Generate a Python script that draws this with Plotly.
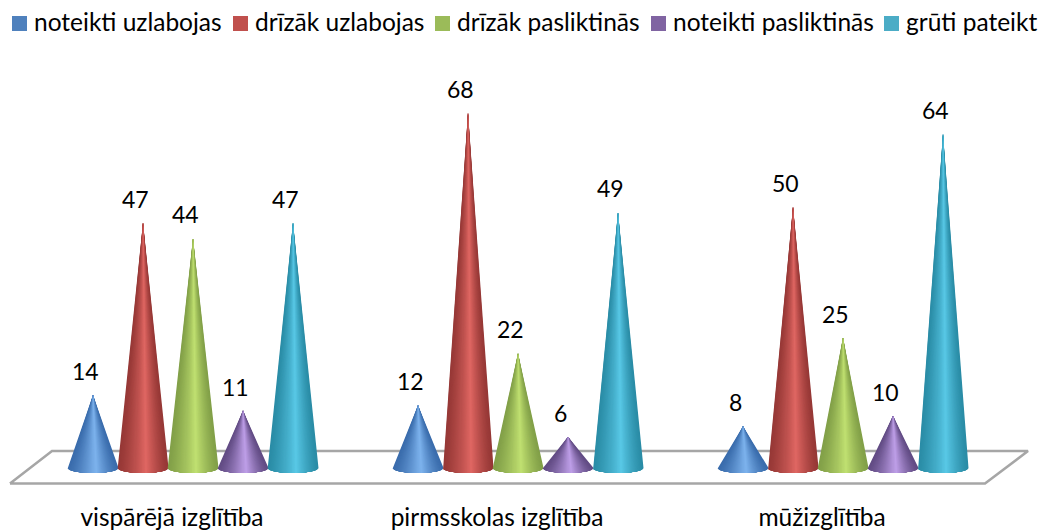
import math
import plotly.graph_objects as go

categories = ["vispārējā izglītība", "pirmsskolas izglītība", "mūžizglītība"]
series_names = ["noteikti uzlabojas", "drīzāk uzlabojas", "drīzāk pasliktinās", "noteikti pasliktinās", "grūti pateikt"]
noteikti_uzlabojas = [14, 12, 8]
drizak_uzlabojas = [47, 68, 50]
drizak_pasliktinas = [44, 22, 25]
noteikti_pasliktinas = [11, 6, 10]
gruti_pateikt = [47, 49, 64]
series_values = [noteikti_uzlabojas, drizak_uzlabojas, drizak_pasliktinas, noteikti_pasliktinas, gruti_pateikt]

legend_colors = ["#4F81BD", "#C0504D", "#9BBB59", "#8064A2", "#4BACC6"]
edge_colors = [(58, 108, 172), (150, 56, 54), (130, 160, 72), (98, 76, 132), (42, 140, 166)]
peak_colors = [(128, 182, 240), (226, 104, 100), (194, 226, 114), (194, 162, 236), (90, 202, 232)]

W, H = 1043, 531
BOTTOM = 40
PX_PER_CAT = 325.0
PX_PER_UNIT = 5.22
CAT0_PX = 172.0
ZERO_PX = 468.0
X_RANGE = [-CAT0_PX / PX_PER_CAT, (W - CAT0_PX) / PX_PER_CAT]
Y_RANGE = [(ZERO_PX - (H - BOTTOM)) / PX_PER_UNIT, ZERO_PX / PX_PER_UNIT]

SERIES_STEP = 50.0 / PX_PER_CAT
FIRST_OFFSET = -79.0 / PX_PER_CAT
HALF_W = 25.5 / PX_PER_CAT
ELL_H = 5.0 / PX_PER_UNIT
LEVELS = 26
ARC_POINTS = 28
PEAK_U = 0.12

LEGEND_SYMBOL_PX = [19.5, 240.5, 442.5, 658.5, 891.5]
LEGEND_TEXT_PX = [33, 254, 456, 672, 905]
LEGEND_SQUARE_Y_PX = 23.5
LEGEND_TEXT_Y_PX = 21.5


def fx(px):
    return (px - CAT0_PX) / PX_PER_CAT


def fy(py):
    return (ZERO_PX - py) / PX_PER_UNIT


def shade(k, s):
    k = k ** 1.3
    c = [edge_colors[s][i] + (peak_colors[s][i] - edge_colors[s][i]) * k for i in range(3)]
    return "rgb(%d,%d,%d)" % tuple(round(v) for v in c)


fig = go.Figure()

# floor of the 3-D chart
fig.add_trace(go.Scatter(
    x=[fx(10), fx(52), fx(1028), fx(985), fx(10)],
    y=[fy(483.5), fy(451), fy(451), fy(483.5), fy(483.5)],
    mode="lines", line=dict(color="#a6a6a6", width=2.5),
    hoverinfo="skip", showlegend=False))

# cones: nested wedges painted from the silhouette inward to the highlight
for s, values in enumerate(series_values):
    for lev in range(LEVELS):
        k = lev / (LEVELS - 1)
        u_left = -1 + (PEAK_U + 1) * k * 0.995
        u_right = 1 - (1 - PEAK_U) * k * 0.995
        th_left = 2 * math.pi - math.acos(u_left)
        th_right = 2 * math.pi - math.acos(u_right)
        bx, by = [], []
        for c, v in enumerate(values):
            xc = c + FIRST_OFFSET + s * SERIES_STEP
            bx.append(xc)
            by.append(v)
            for m in range(ARC_POINTS + 1):
                th = th_left + (th_right - th_left) * m / ARC_POINTS
                bx.append(xc + HALF_W * math.cos(th))
                by.append(ELL_H * math.sin(th))
            bx += [xc, None]
            by += [v, None]
        fig.add_trace(go.Scatter(
            x=bx, y=by, mode="lines", fill="toself", fillcolor=shade(k, s),
            line=dict(width=0), hoverinfo="skip", showlegend=False))

# legend squares and texts
for s, name in enumerate(series_names):
    fig.add_trace(go.Scatter(
        x=[fx(LEGEND_SYMBOL_PX[s])], y=[fy(LEGEND_SQUARE_Y_PX)], mode="markers", name=name,
        marker=dict(symbol="square", size=15, color=legend_colors[s], line=dict(width=0)),
        hoverinfo="name", showlegend=False))
    fig.add_annotation(
        x=fx(LEGEND_TEXT_PX[s]), y=fy(LEGEND_TEXT_Y_PX), text=name, showarrow=False,
        xanchor="left", yanchor="middle", borderpad=0,
        font=dict(family="Lato", size=24.5, color="#000000"))

# value labels
for s, values in enumerate(series_values):
    for c, v in enumerate(values):
        fig.add_annotation(
            x=c + FIRST_OFFSET + s * SERIES_STEP, y=v, text=str(v), showarrow=False,
            xanchor="center", yanchor="bottom", xshift=-8, yshift=8,
            font=dict(family="Lato", size=23, color="#000000"))

fig.update_layout(
    width=W, height=H, autosize=False,
    margin=dict(l=0, r=0, t=0, b=BOTTOM),
    paper_bgcolor="white", plot_bgcolor="white",
    font=dict(family="Lato", color="#000000"),
    xaxis=dict(range=X_RANGE, tickvals=[0, 1, 2], ticktext=categories,
               showgrid=False, zeroline=False, showline=False, ticks="",
               ticklabelstandoff=9, tickfont=dict(family="Lato", size=24.5, color="#000000"),
               fixedrange=True),
    yaxis=dict(range=Y_RANGE, visible=False, fixedrange=True),
    showlegend=False,
)

fig.write_html("out.html", config={"displayModeBar": False},
               post_script="document.body.style.margin='0';")
